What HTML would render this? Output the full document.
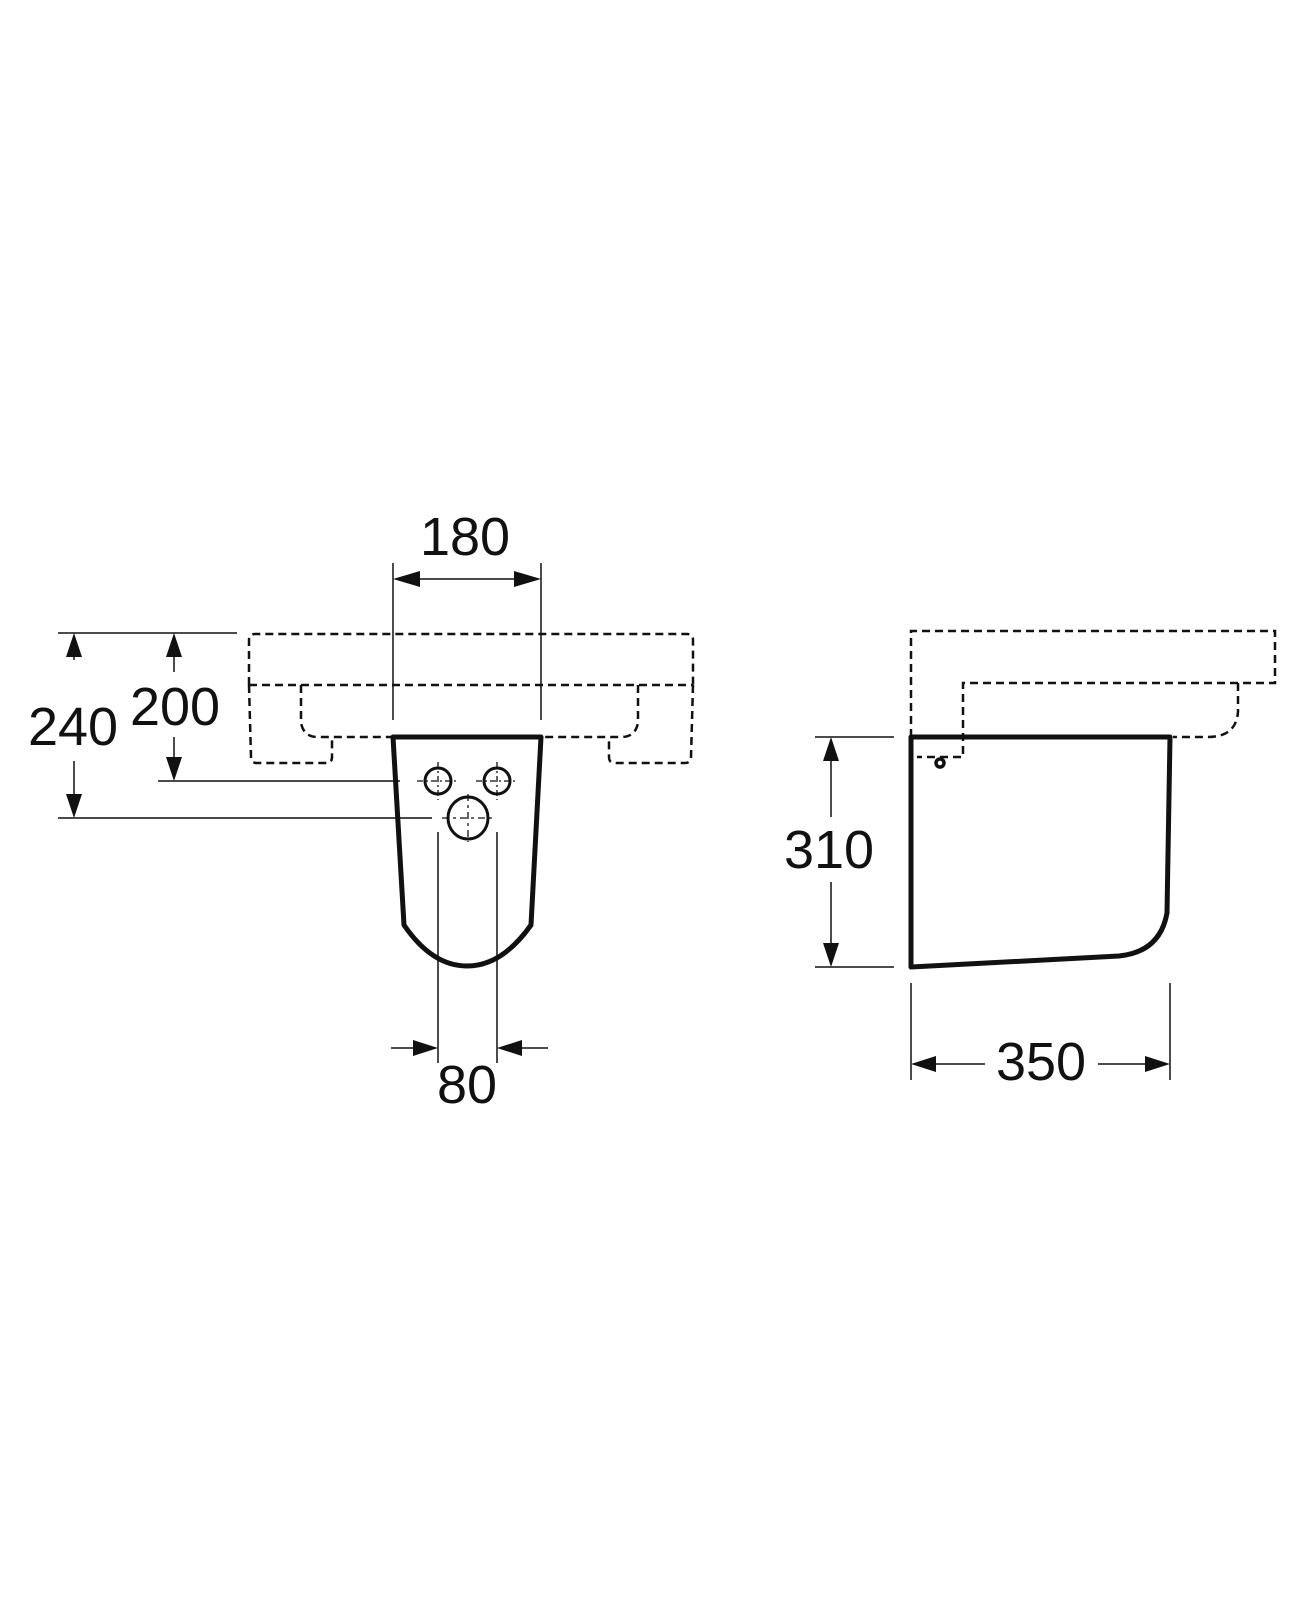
<!DOCTYPE html>
<html><head><meta charset="utf-8"><style>
html,body{margin:0;padding:0;background:#fff;}
svg{display:block;}
text{font-family:"Liberation Sans",Arial,sans-serif;font-size:54px;fill:#111;}
</style></head><body>
<svg width="1300" height="1620" viewBox="0 0 1300 1620" xmlns="http://www.w3.org/2000/svg">
<g fill="none" stroke="#111">
<g stroke-width="2.5" stroke-dasharray="8,5">
<path d="M249,685 L249,640 Q249,634 255,634 L687,634 Q693,634 693,640 L693,685"/>
<line x1="249" y1="685" x2="693" y2="685"/>
<path d="M249,685 L251,757 Q251,763 257,763 L326,763 Q332,763 332,757 L332,737"/>
<path d="M301,685 L301,722 Q303,737 318,737 L393,737"/>
<path d="M693,685 L691,757 Q691,763 685,763 L615,763 Q609,763 609,757 L609,737"/>
<path d="M638,685 L638,722 Q636,737 621,737 L541,737"/>
</g>
<path d="M393,737 L541,737 L531,925 Q502,966 467,966 Q432,966 404,925 Z" stroke-width="5" stroke-linejoin="round"/>
<g stroke-width="3">
<circle cx="438" cy="781" r="13"/><circle cx="497" cy="781" r="13"/>
<ellipse cx="468" cy="818" rx="20" ry="21"/>
</g>
<g stroke-width="1.3">
<line x1="417" y1="781" x2="459" y2="781" stroke-dasharray="6,3,2,3"/>
<line x1="438" y1="762" x2="438" y2="800" stroke-dasharray="6,3,2,3"/>
<line x1="476" y1="781" x2="518" y2="781" stroke-dasharray="6,3,2,3"/>
<line x1="497" y1="762" x2="497" y2="800" stroke-dasharray="6,3,2,3"/>
<line x1="442" y1="818" x2="494" y2="818" stroke-dasharray="7,4,3,4"/>
<line x1="468" y1="794" x2="468" y2="842" stroke-dasharray="7,4,3,4"/>
</g>
<g stroke-width="1.5">
<line x1="393" y1="563" x2="393" y2="720"/>
<line x1="541" y1="563" x2="541" y2="720"/>
<line x1="410" y1="579" x2="524" y2="579"/>
<line x1="58" y1="633" x2="237" y2="633"/>
<line x1="158" y1="781" x2="400" y2="781"/>
<line x1="58" y1="818" x2="432" y2="818"/>
<line x1="74" y1="650" x2="74" y2="660"/><line x1="74" y1="761" x2="74" y2="800"/>
<line x1="174" y1="650" x2="174" y2="672"/><line x1="174" y1="737" x2="174" y2="764"/>
<line x1="438" y1="832" x2="438" y2="1063"/>
<line x1="497" y1="832" x2="497" y2="1063"/>
<line x1="391" y1="1048" x2="420" y2="1048"/>
<line x1="515" y1="1048" x2="548" y2="1048"/>
</g>
</g>
<g fill="#111">
<polygon points="393,579 420,571 420,587"/>
<polygon points="541,579 514,571 514,587"/>
<polygon points="74,633 66,657 82,657"/>
<polygon points="74,818 66,794 82,794"/>
<polygon points="174,633 166,657 182,657"/>
<polygon points="174,781 166,757 182,757"/>
<polygon points="438,1048 413,1040 413,1056"/>
<polygon points="497,1048 522,1040 522,1056"/>
</g>
<text x="465" y="555" text-anchor="middle">180</text>
<text x="73" y="745" text-anchor="middle">240</text>
<text x="175" y="725" text-anchor="middle">200</text>
<text x="467" y="1103" text-anchor="middle">80</text>

<g fill="none" stroke="#111">
<g stroke-width="2.5" stroke-dasharray="8,5">
<path d="M911,737 L911,631 L1275,631 L1275,683 L963,683 L963,757 L917,757"/>
<path d="M1238,683 L1238,712 Q1236,737 1208,737 L1173,737"/>
</g>
<path d="M911,737 L1170,737 L1167,913 Q1160,952 1119,956 L911,967 Z" stroke-width="5" stroke-linejoin="round"/>
<g stroke-width="1.5">
<line x1="815" y1="737" x2="894" y2="737"/>
<line x1="815" y1="967" x2="894" y2="967"/>
<line x1="831" y1="755" x2="831" y2="817"/><line x1="831" y1="882" x2="831" y2="950"/>
<line x1="911" y1="983" x2="911" y2="1080"/>
<line x1="1170" y1="983" x2="1170" y2="1080"/>
<line x1="930" y1="1064" x2="985" y2="1064"/>
<line x1="1098" y1="1064" x2="1150" y2="1064"/>
</g>
</g>
<circle cx="940" cy="763" r="4" fill="none" stroke="#111" stroke-width="3.5"/>
<g fill="#111">
<polygon points="831,737 823,761 839,761"/>
<polygon points="831,967 823,943 839,943"/>
<polygon points="911,1064 936,1056 936,1072"/>
<polygon points="1170,1064 1145,1056 1145,1072"/>
</g>
<text x="829" y="868" text-anchor="middle">310</text>
<text x="1041" y="1080" text-anchor="middle">350</text>
</svg>
</body></html>
